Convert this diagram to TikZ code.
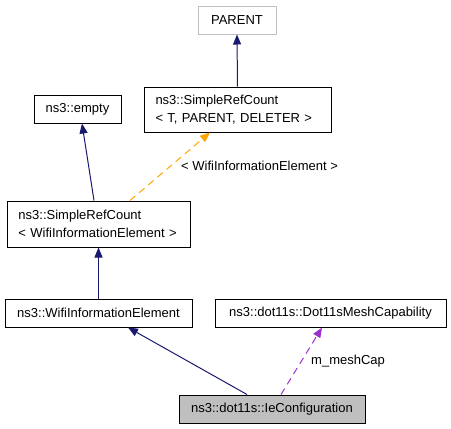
\documentclass[tikz,border=0pt]{standalone}
\usepackage{fontspec}
\setmainfont{Liberation Sans}
\usetikzlibrary{arrows.meta}
\definecolor{edgeblue}{HTML}{191970}
\definecolor{edgeorange}{HTML}{FFA500}
\definecolor{edgepurple}{HTML}{9A32CD}
\definecolor{boxgray}{HTML}{BFBFBF}
\begin{document}
\begin{tikzpicture}[x=1pt,y=-1pt,
  every node/.style={font=\fontsize{13}{16}\selectfont},
  cls/.style={draw=black, line width=1pt, inner sep=0pt, minimum height=28pt},
  clsml/.style={cls, align=left, inner xsep=11.5pt},
  inh/.style={draw=edgeblue, line width=1pt, -{Triangle[length=10pt,width=8pt]}},
  tmpl/.style={draw=edgeorange, line width=1pt, dash pattern=on 7pt off 5pt, -{Triangle[length=10pt,width=8pt]}},
  usage/.style={draw=edgepurple, line width=1pt, dash pattern=on 7pt off 5pt, -{Triangle[length=10pt,width=8pt]}},
  lbl/.style={anchor=west, inner sep=0pt}
]
\useasboundingbox (0,0) rectangle (451,429);
\node[cls, draw=boxgray, minimum width=78pt] (parent) at (237,20) {PARENT};
\node[clsml, minimum width=187pt, minimum height=45pt, text width=164pt] (src1) at (237.5,109.5) {ns3::SimpleRefCount\\[2pt]< T, PARENT, DELETER >};
\node[cls, minimum width=87pt] (empty) at (77.5,109) {ns3::empty};
\node[clsml, minimum width=183pt, minimum height=46pt, text width=160pt] (src2) at (98.5,224) {ns3::SimpleRefCount\\[2pt]< WifiInformationElement >};
\node[cls, minimum width=187pt] (wie) at (98.5,313) {ns3::WifiInformationElement};
\node[cls, minimum width=231pt] (dmc) at (330.5,313) {ns3::dot11s::Dot11sMeshCapability};
\node[cls, fill=boxgray, minimum width=186pt] (iec) at (272,409) {ns3::dot11s::IeConfiguration};

\draw[inh] (src1.north) -- (parent.south);
\draw[inh] ([xshift=-4.5pt]src2.north) -- ([xshift=4.5pt]empty.south);
\draw[tmpl] ([xshift=31.5pt]src2.north) -- ([xshift=-27.5pt]src1.south);
\node[lbl] (tlabel) at (181,166) {< WifiInformationElement >};
\draw[inh] (wie.north) -- (src2.south);
\draw[inh] ([xshift=-25pt]iec.north) -- ([xshift=29.5pt]wie.south);
\draw[usage] ([xshift=9pt]iec.north) -- ([xshift=-8.5pt]dmc.south);
\node[lbl] (ulabel) at (311,361) {m\_meshCap};
\end{tikzpicture}
\end{document}
